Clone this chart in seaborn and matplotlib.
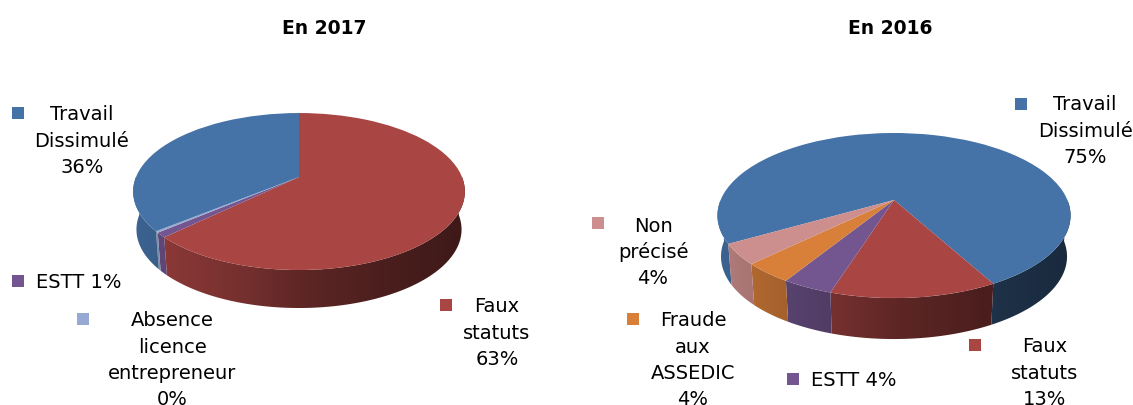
import matplotlib
matplotlib.use('Agg')
import matplotlib.pyplot as plt
import matplotlib.transforms as mtransforms
from matplotlib.patches import Polygon
import numpy as np
import seaborn as sns

# chart values
labels_2017 = ["Faux statuts", "ESTT", "Absence licence entrepreneur", "Travail Dissimulé"]
values_2017 = [63, 1, 0.3, 36]
labels_2016 = ["Travail Dissimulé", "Faux statuts", "ESTT", "Fraude aux ASSEDIC", "Non précisé"]
values_2016 = [75.4, 12.8, 3.9, 3.9, 4.0]

BLUE, RED, PURPLE = "#4572A7", "#A94543", "#735690"
ORANGE, PINK, PALE = "#D87F3A", "#CD8F8D", "#96A9D2"
colors_2017 = sns.color_palette([RED, PURPLE, PALE, BLUE])
colors_2016 = sns.color_palette([BLUE, RED, PURPLE, ORANGE, PINK])

# (key x, key y, text x, first line y, alignment, lines)
notes = [
    (18, 113, 82, 115, "center", ["Travail", "Dissimulé", "36%"], BLUE),
    (18, 281, 36, 282, "left", ["ESTT 1%"], PURPLE),
    (83, 319, 172, 321, "center", ["Absence", "licence", "entrepreneur", "0%"], PALE),
    (446, 305, 497, 307, "center", ["Faux", "statuts", "63%"], RED),
    (1021, 104, 1085, 105, "center", ["Travail", "Dissimulé", "75%"], BLUE),
    (598, 223, 653, 226, "center", ["Non", "précisé", "4%"], PINK),
    (633, 319, 693, 321, "center", ["Fraude", "aux", "ASSEDIC", "4%"], ORANGE),
    (793, 379, 811, 381, "left", ["ESTT 4%"], PURPLE),
    (975, 345, 1045, 347, "center", ["Faux", "statuts", "13%"], RED),
]


class TiltTransform(mtransforms.Transform):
    """Projects the flat unit pie onto the page, the far edge looks smaller"""
    input_dims = 2
    output_dims = 2

    def __init__(self, cx, cy, rx, ry, b):
        super().__init__()
        self.cx, self.cy, self.rx, self.ry, self.b = cx, cy, rx, ry, b

    def transform_non_affine(self, values):
        x, y = np.asarray(values).T
        w = 1 + self.b * y
        return np.column_stack([self.cx + self.rx * x / w, self.cy - self.ry * y / w])


def draw_pie(ax, values, colors, start, tilt, depth, shrink=0.98):
    wedges, _ = ax.pie(values, colors=colors, startangle=start, counterclock=False,
                       wedgeprops={"linewidth": 0})
    x0, x1 = tilt.cx - tilt.rx * 1.05, tilt.cx + tilt.rx * 1.05
    xs = np.linspace(-1, 1, 256)
    shade = np.interp(xs, [-1, -0.8, -0.5, -0.3, 0, 0.5, 1],
                      [0.88, 0.82, 0.74, 0.68, 0.56, 0.44, 0.36])

    for wedge, color in zip(wedges, colors):
        wedge.set_transform(tilt + ax.transData)
        wedge.set_zorder(3)

        # side of the slice, only the part that faces the viewer
        angles = np.radians(np.linspace(wedge.theta1, wedge.theta2, 400))
        front = np.sin(angles) <= 0
        breaks = np.flatnonzero(np.diff(front.astype(int))) + 1
        for run in np.split(np.arange(len(angles)), breaks):
            if not front[run[0]] or len(run) < 2:
                continue
            upper = tilt.transform(np.column_stack([np.cos(angles[run]), np.sin(angles[run])]))
            lower = upper.copy()
            lower[:, 0] = tilt.cx + shrink * (lower[:, 0] - tilt.cx)
            lower[:, 1] += depth
            outline = Polygon(np.vstack([upper, lower[::-1]]), transform=ax.transData)
            gradient = (np.array(color) * shade[:, None])[None, :, :]
            im = ax.imshow(gradient, extent=(x0, x1, 400, 100), aspect="auto",
                           interpolation="bilinear", zorder=2)
            im.set_clip_path(outline)


sns.set_theme(style="white")
plt.rcParams['font.family'] = ['DejaVu Sans']

fig = plt.figure(figsize=(11.33, 4.05), dpi=100)
ax = fig.add_axes([0, 0, 1, 1])

draw_pie(ax, values_2017, colors_2017, 90, TiltTransform(299, 177, 163, 75.8, 0.185), 38)
draw_pie(ax, values_2016, colors_2016, 90 - 240, TiltTransform(894, 200, 173.4, 79.6, 0.188), 41)

ax.set_aspect("auto")
ax.set_xlim(0, 1133)
ax.set_ylim(405, 0)
ax.axis("off")

ax.text(324, 29, "En 2017", fontsize=13.5, fontweight="bold", ha="center", va="center", color="black")
ax.text(890, 29, "En 2016", fontsize=13.5, fontweight="bold", ha="center", va="center", color="black")

for key_x, key_y, text_x, text_y, align, lines, color in notes:
    ax.scatter([key_x], [key_y], marker="s", s=72, color=color, linewidths=0, zorder=4)
    for i, line in enumerate(lines):
        ax.text(text_x, text_y + i * 26.3, line, fontsize=14, ha=align, va="center",
                color="black", zorder=5)

fig.savefig("out.png", dpi=100)
plt.close(fig)
